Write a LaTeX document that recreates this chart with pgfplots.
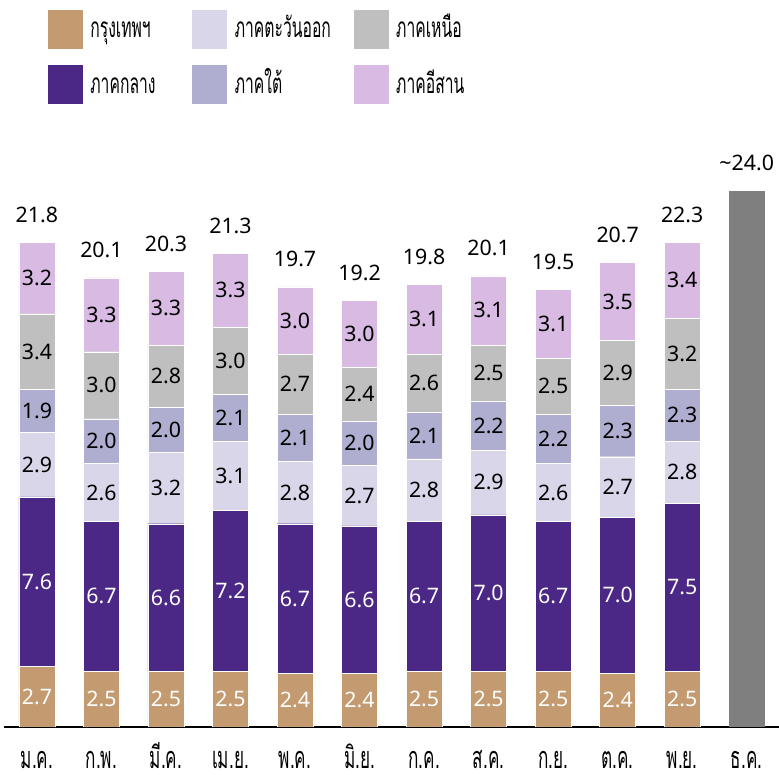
\documentclass[border=0pt]{standalone}
\usepackage{fontspec}
\setmainfont{Noto Sans}
\newfontfamily\thaifont[Script=Thai, FakeStretch=0.56]{Loma}
\usepackage{pgfplots}
\usepackage{pgfplotstable}
\pgfplotsset{compat=1.18}
\definecolor{cBKK}{RGB}{196,154,112}
\definecolor{cCEN}{RGB}{75,40,133}
\definecolor{cEAST}{RGB}{218,214,234}
\definecolor{cSOUTH}{RGB}{175,174,209}
\definecolor{cNORTH}{RGB}{191,191,191}
\definecolor{cNE}{RGB}{216,186,226}
\definecolor{cDEC}{RGB}{127,127,127}
\newcommand\numf{\fontsize{16}{18}\selectfont}
\newcommand\legtxt[2]{\raisebox{1pt}[0pt][0pt]{\makebox[#1][l]{#2}}}
\pgfplotstableread{
x bkk cen east south north ne top total
0 2.7 7.6 2.9 1.9 3.4 3.2 21.7 21.8
1 2.5 6.7 2.6 2.0 3.0 3.3 20.1 20.1
2 2.5 6.6 3.2 2.0 2.8 3.3 20.4 20.3
3 2.5 7.2 3.1 2.1 3.0 3.3 21.2 21.3
4 2.4 6.7 2.8 2.1 2.7 3.0 19.7 19.7
5 2.4 6.6 2.7 2.0 2.4 3.0 19.1 19.2
6 2.5 6.7 2.8 2.1 2.6 3.1 19.8 19.8
7 2.5 7.0 2.9 2.2 2.5 3.1 20.2 20.1
8 2.5 6.7 2.6 2.2 2.5 3.1 19.6 19.5
9 2.4 7.0 2.7 2.3 2.9 3.5 20.8 20.7
10 2.5 7.5 2.8 2.3 3.2 3.4 21.7 22.3
}\data
\pgfplotstablecreatecol[create col/expr={\thisrow{bkk}/2}]{m1}\data
\pgfplotstablecreatecol[create col/expr={\thisrow{bkk}+\thisrow{cen}/2}]{m2}\data
\pgfplotstablecreatecol[create col/expr={\thisrow{bkk}+\thisrow{cen}+\thisrow{east}/2}]{m3}\data
\pgfplotstablecreatecol[create col/expr={\thisrow{bkk}+\thisrow{cen}+\thisrow{east}+\thisrow{south}/2}]{m4}\data
\pgfplotstablecreatecol[create col/expr={\thisrow{bkk}+\thisrow{cen}+\thisrow{east}+\thisrow{south}+\thisrow{north}/2}]{m5}\data
\pgfplotstablecreatecol[create col/expr={\thisrow{bkk}+\thisrow{cen}+\thisrow{east}+\thisrow{south}+\thisrow{north}+\thisrow{ne}/2}]{m6}\data
\pgfplotsset{
  base/.style={scale only axis, width=581.25pt, height=432.75pt,
    xmin=-0.51, xmax=11.5, ymin=0, ymax=25.83, at={(0,0)}, anchor=south west},
  seglabel/.style={only marks, mark=*, mark size=0pt, mark options={draw=none,fill=none},
    nodes near coords, point meta=explicit symbolic,
    every node near coord/.append style={font=\numf, anchor=center, text=#1}},
}
\begin{document}
\begin{tikzpicture}
\useasboundingbox (-3pt,-36pt) rectangle (581.25pt,545.25pt);
\begin{axis}[base, ybar stacked, bar width=27pt,
  axis y line=none, axis x line=bottom,
  x axis line style={-, line width=1.5pt, black},
  xtick={0,...,11},
  xticklabels={ม.ค.,ก.พ.,มี.ค.,เม.ย.,พ.ค.,มิ.ย.,ก.ค.,ส.ค.,ก.ย.,ต.ค.,พ.ย.,ธ.ค.},
  major tick length=0pt,
  xticklabel style={font=\thaifont\fontsize{23}{25}\selectfont, anchor=base, yshift=-30.75pt},
  every axis plot post/.append style={legend image code/.code={\fill[##1] (0pt,-6.75pt) rectangle (27pt,23.25pt);}},
  legend columns=2, transpose legend,
  legend style={draw=none, fill=none, at={(0.0555,1.2444)}, anchor=north west,
    inner sep=0pt, outer sep=0pt, row sep=11.25pt,
    nodes={inner sep=0pt, outer sep=0pt},
    font=\thaifont\fontsize{21}{23}\selectfont,
    /tikz/every odd column/.append style={column sep=5.25pt}},
]
\addplot[fill=cBKK, draw=white, line width=0.3pt] table[x=x, y=bkk]{\data};
\addplot[fill=cCEN, draw=white, line width=0.3pt] table[x=x, y=cen]{\data};
\addplot[fill=cEAST, draw=white, line width=0.3pt] table[x=x, y=east]{\data};
\addplot[fill=cSOUTH, draw=white, line width=0.3pt] table[x=x, y=south]{\data};
\addplot[fill=cNORTH, draw=white, line width=0.3pt] table[x=x, y=north]{\data};
\addplot[fill=cNE, draw=white, line width=0.3pt] table[x=x, y=ne]{\data};
\legend{\legtxt{75.75pt}{กรุงเทพฯ},\legtxt{75.75pt}{ภาคกลาง},\legtxt{88.5pt}{ภาคตะวันออก},\legtxt{88.5pt}{ภาคใต้},\legtxt{80pt}{ภาคเหนือ},\legtxt{80pt}{ภาคอีสาน}}
\end{axis}
\begin{axis}[base, axis lines=none, clip=false]
\addplot[ybar, bar width=27pt, fill=cDEC, draw=none] coordinates {(11,24.0)};
\addplot[seglabel=white] table[x=x, y=m1, meta=bkk]{\data};
\addplot[seglabel=white] table[x=x, y=m2, meta=cen]{\data};
\addplot[seglabel=black] table[x=x, y=m3, meta=east]{\data};
\addplot[seglabel=black] table[x=x, y=m4, meta=south]{\data};
\addplot[seglabel=black] table[x=x, y=m5, meta=north]{\data};
\addplot[seglabel=black] table[x=x, y=m6, meta=ne]{\data};
\addplot[only marks, mark=*, mark size=0pt, mark options={draw=none,fill=none},
  nodes near coords, point meta=explicit symbolic,
  every node near coord/.append style={font=\numf, anchor=base, yshift=15pt, text=black}]
  table[x=x, y=top, meta=total]{\data};
\addplot[only marks, mark=*, mark size=0pt, mark options={draw=none,fill=none},
  nodes near coords, point meta=explicit symbolic,
  every node near coord/.append style={font=\numf, anchor=base, yshift=15pt, text=black}]
  coordinates {(11,24.0) [\textasciitilde24.0]};
\end{axis}
\end{tikzpicture}
\end{document}
